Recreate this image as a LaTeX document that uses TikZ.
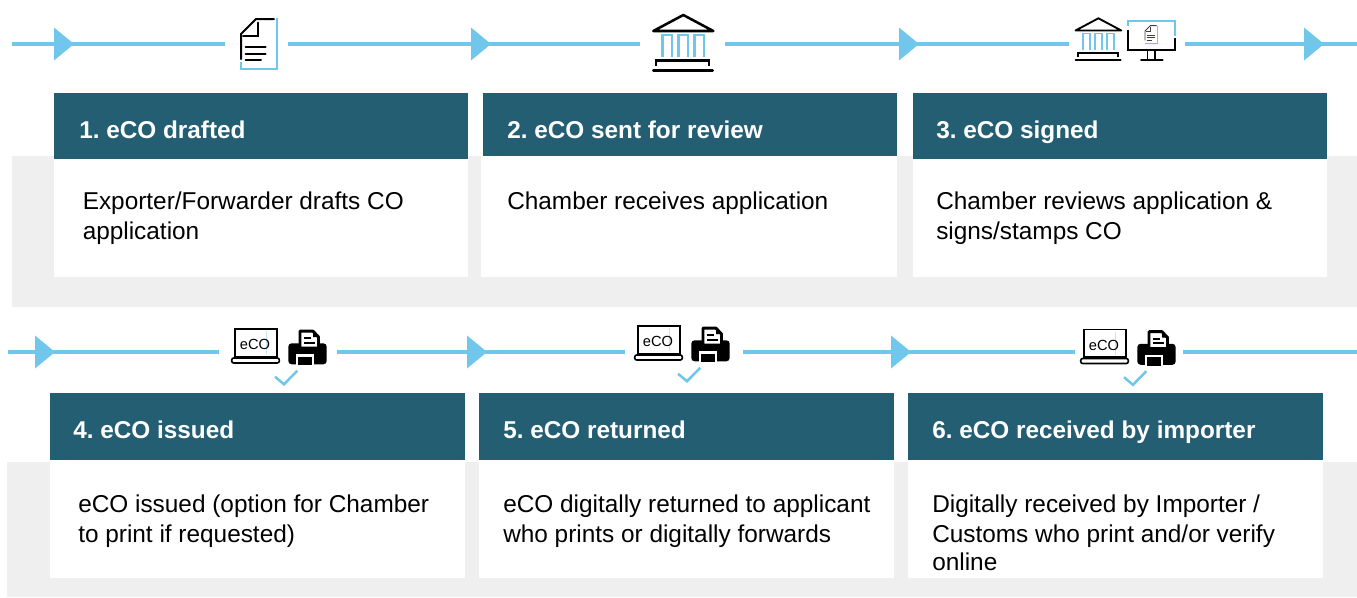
\documentclass[tikz,border=0pt]{standalone}
\usepackage{fontspec}
\setmainfont{Liberation Sans}
\frenchspacing
\definecolor{teal1}{HTML}{245E72}
\definecolor{sky1}{HTML}{70C6EB}
\definecolor{band1}{HTML}{EFEFEF}
\tikzset{
  x=0.75pt,y=-0.75pt,
  hdrbox/.style={fill=teal1,draw=none},
  cardbox/.style={fill=white,draw=none},
  bandbox/.style={fill=band1,draw=none},
  hdrtext/.style={anchor=base west,inner sep=0pt,text=white,font=\fontsize{18.25}{22}\selectfont\bfseries},
  bodytext/.style={anchor=north west,inner sep=0pt,align=left,text=black,font=\fontsize{18.28}{22.5}\selectfont},
  flowline/.style={draw=sky1,line width=3pt},
  gapnode/.style={inner sep=0pt,draw=none,minimum height=4pt},
  blk/.style={draw=black,line width=1.9pt,line cap=round,line join=miter},
  blu/.style={draw=sky1,line width=1.9pt,line join=miter},
  thinblk/.style={draw=black,line width=1.5pt,line cap=round,line join=miter},
  thinblu/.style={draw=sky1,line width=1.5pt,line join=miter},
  pics/tri/.style={code={\fill[sky1] (0,-16.5) -- (20,0) -- (0,16.5) -- cycle;}},
  pics/docicon/.style={code={
    \draw[thinblu] (36.3,-0.7) -- (36.3,50.3) -- (0,50.3) -- (0,42.7);
    \draw[#1] (0,40) -- (0,15) -- (15,0) -- (33,0);
    \draw[#1] (16.7,3.7) -- (16.7,16.7) -- (2,16.7);
    \draw[#1] (4.7,28.3) -- (24.7,28.3);
    \draw[#1] (4.7,34.7) -- (24.7,34.7);
    \draw[#1] (4.7,41.3) -- (20,41.3);
  }},
  pics/bankicon/.style 2 args={code={
    \draw[draw=black,line width=#2,line join=round] (-30,16) -- (0,0) -- (30,16) -- cycle;
    \foreach \cx in {-16,0,16}{
      \draw[blu,line width=#1] (\cx-4.6,42.3) -- (\cx-4.6,20) -- (\cx+4.6,20) -- (\cx+4.6,42.3);
    }
    \draw[draw=black,line width=#2] (-27.3,51) -- (-27.3,45.3) -- (25.7,45.3) -- (25.7,51);
    \draw[draw=black,line width=#2,line cap=round] (-30,55.3) -- (29.4,55.3);
  }},
  pics/ecopair/.style={code={
    % laptop screen, base, text, cursor
    \draw[black,line width=1.3pt] (0,0) rectangle (41.7,27.7);
    \draw[sky1!45,line width=0.5pt] (31.7,2) -- (31.7,25);
    \node[inner sep=0pt,font=\fontsize{11}{12}\selectfont] at (20,15.5) {eCO};
    \draw[black,line width=1.2pt,rounded corners=1.5pt,fill=white] (-3.3,29) rectangle (44.3,34);
    % printer body
    \fill[black,rounded corners=2.5pt] (53.3,14.3) rectangle (91.7,35.3);
    \fill[white] (61,25.3) rectangle (79.3,36);
    \fill[black] (63.3,27.7) rectangle (77.3,36);
    \filldraw[fill=white,draw=black,line width=2.2pt,line join=round] (65,2.2) -- (78,2.2) -- (83.5,8) -- (83.5,19) -- (65,19) -- cycle;
    \fill[black] (78,2.2) -- (83.5,8) -- (78,8) -- cycle;
    \fill[black] (68.5,8.3) rectangle (76,10.3);
    \fill[black] (68.5,12.6) rectangle (80,14.6);
    % tick
    \draw[sky1,line width=1.9pt] (40,47.7) -- (49,55.3) -- (62.3,41.7);
  }}
}
\begin{document}
\begin{tikzpicture}
\useasboundingbox (0,0) rectangle (1357,597);
% grey bands
\fill[bandbox] (12,156) rectangle (1357,307);
\fill[bandbox] (7,461.5) rectangle (1357,597);
% white cards
\fill[cardbox] (54,159) rectangle (468,277);
\fill[cardbox] (481,156) rectangle (897,277);
\fill[cardbox] (913,159) rectangle (1327,277);
\fill[cardbox] (49.5,459) rectangle (464.5,578);
\fill[cardbox] (479,459) rectangle (894,578);
\fill[cardbox] (908,459) rectangle (1323,578);
% headers
\fill[hdrbox] (54,93) rectangle (468,159);
\fill[hdrbox] (483,93) rectangle (897,156);
\fill[hdrbox] (913,93) rectangle (1327,159);
\fill[hdrbox] (49.5,393) rectangle (464.5,459.5);
\fill[hdrbox] (479,393) rectangle (894,459.5);
\fill[hdrbox] (908,393) rectangle (1323,459.5);
% connectors, row 1
\coordinate (a0) at (12,44);
\node[gapnode,minimum width=47.25pt] (a1) at (256.5,44) {};
\node[gapnode,minimum width=63.75pt] (a2) at (682.5,44) {};
\node[gapnode,minimum width=87pt] (a3) at (1127,44) {};
\coordinate (a4) at (1357,44);
\draw[flowline] (a0) -- (a1);
\draw[flowline] (a1) -- (a2);
\draw[flowline] (a2) -- (a3);
\draw[flowline] (a3) -- (a4);
\pic at (54,44) {tri};
\pic at (471,44) {tri};
\pic at (899,44) {tri};
\pic at (1304,44) {tri};
% connectors, row 2
\coordinate (b0) at (8,352);
\node[gapnode,minimum width=88.5pt] (b1) at (278,352) {};
\node[gapnode,minimum width=88.5pt] (b2) at (684,352) {};
\node[gapnode,minimum width=81pt] (b3) at (1129,352) {};
\coordinate (b4) at (1357,352);
\draw[flowline] (b0) -- (b1);
\draw[flowline] (b1) -- (b2);
\draw[flowline] (b2) -- (b3);
\draw[flowline] (b3) -- (b4);
\pic at (35,352) {tri};
\pic at (467,352) {tri};
\pic at (891,352) {tri};
% icons
\pic at (241,19) {docicon=thinblk};
\pic at (683.3,15) {bankicon={1.9pt}{1.9pt}};
\pic[scale=0.76] at (1098.4,18.3) {bankicon={1.2pt}{1.4pt}};
% monitor
\draw[thinblu] (1128.3,25.7) -- (1128.3,20.7) -- (1175,20.7) -- (1175,36);
\draw[thinblk,line cap=butt] (1128.3,30) -- (1128.3,50) -- (1175,50) -- (1175,38.3);
\draw[thinblk,line cap=butt,line width=1.1pt] (1147.3,50) -- (1147.3,59) (1155,50) -- (1155,59);
\draw[thinblk] (1141,60.3) -- (1162.5,60.3);
\begin{scope}[shift={(1145,25.7)},scale=0.35]
  \draw[sky1,line width=0.7pt] (36.3,0) -- (36.3,50.3) -- (0,50.3);
  \draw[black!75,line width=0.7pt] (0,42) -- (0,15) -- (15,0) -- (33,0);
  \draw[black!75,line width=0.6pt] (16.7,3.7) -- (16.7,16.7) -- (2,16.7);
  \draw[black!75,line width=0.8pt] (4.7,28.3) -- (28,28.3) (4.7,34.7) -- (28,34.7) (4.7,41.3) -- (20,41.3);
\end{scope}
\pic at (235,329) {ecopair};
\pic at (638,326) {ecopair};
\pic at (1084,329.5) {ecopair};
% header text
\node[hdrtext] (h1) at (79,138) {1. eCO drafted};
\node[hdrtext] (h2) at (507,138) {2. eCO sent for review};
\node[hdrtext] (h3) at (936,138) {3. eCO signed};
\node[hdrtext] (h4) at (73,438) {4. eCO issued};
\node[hdrtext] (h5) at (503,438) {5. eCO returned};
\node[hdrtext] (h6) at (932,438) {6. eCO received by importer};
% body text
\node[bodytext] (t1) at (82.5,189) {\rule{0pt}{15pt}Exporter/Forwarder drafts CO\\application};
\node[bodytext] (t2) at (507,189) {\rule{0pt}{15pt}Chamber receives application};
\node[bodytext] (t3) at (936,189) {\rule{0pt}{15pt}Chamber reviews application \&\\signs/stamps CO};
\node[bodytext] (t4) at (78,492) {\rule{0pt}{15pt}eCO issued (option for Chamber\\to print if requested)};
\node[bodytext] (t5) at (503,492) {\rule{0pt}{15pt}eCO digitally returned to applicant\\who prints or digitally forwards};
\node[bodytext] (t6) at (932,492) {\rule{0pt}{15pt}Digitally received by Importer /\\Customs who print and/or verify\\[-1.3pt]online};
\end{tikzpicture}
\end{document}
